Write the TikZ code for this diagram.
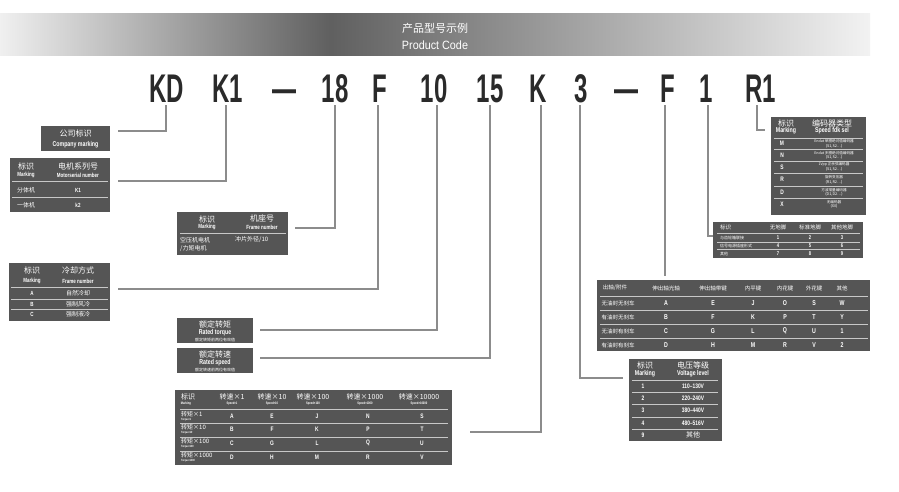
\documentclass[tikz,border=0pt]{standalone}
\usepackage{fontspec}
\setmainfont{Liberation Sans}
\newfontfamily\cjk{Noto Sans CJK SC}
\begin{document}
\begin{tikzpicture}[x=1pt,y=-1pt,
  bx/.style={fill=boxgray,draw=none},
  t/.style={text=white,font=\cjk\fontsize{#1}{#1}\selectfont,inner sep=0pt},
  t/.default=6,
  b/.style={text=white,font=\bfseries\fontsize{#1}{#1}\selectfont,inner sep=0pt,xscale=0.75,transform shape},
  b/.default=6,
  sep/.style={draw=sepgray,line width=0.9pt},
  con/.style={draw=congray,line width=1.3pt},
  code/.style={font=\bfseries\fontsize{40}{40}\selectfont,text=codecol,inner sep=0pt,xscale=0.6,transform shape}]
\definecolor{boxgray}{HTML}{555555}
\definecolor{sepgray}{HTML}{C8C8C8}
\definecolor{congray}{HTML}{8C8C8C}
\definecolor{codecol}{HTML}{2A2A2A}
\def\dd{\ldots}
\useasboundingbox (0,0) rectangle (899,491);
% banner
\shade[left color=white!88!gray, right color=gray!75!black] (0,13) rectangle (330,55);
\shade[left color=gray!75!black, right color=white!90!gray] (330,13) rectangle (870,55);
\node[t=11,text=white] (ttl) at (435,28) {产品型号示例};
\node[text=white,font=\fontsize{12}{12}\selectfont,inner sep=0pt,xscale=0.9,transform shape] (ttl2) at (435,45) {Product Code};
% code
\foreach \n/\x/\s in {c1/167/KD,c2/228/K1,c3/284/—,c4/335/18,c5/380/F,c6/434/10,c7/490/15,c8/538/K,c9/581/3,c10/626/—,c11/668/F,c12/706/1,c13/761/R1}
  \node[code,anchor=base] (\n) at (\x,102) {\s};
% Company
\node[bx,minimum width=69pt,minimum height=25pt,inner sep=0pt] (cm) at (75.5,138.5) {};
\node[t=8] (cm1) at (75.5,133) {公司标识};
\node[b=7] (cm2) at (75.5,145) {Company marking};
\draw[con] (166,105) |- (118,131);
% Motor series
\node[bx,minimum width=100pt,minimum height=54pt,inner sep=0pt] (ms) at (60,185) {};
\node[t=8] at (26,166) {标识}; \node[t=8] at (78,166) {电机系列号};
\node[b] at (26,175) {Marking}; \node[b] at (78,175) {Motorserial number};
\draw[sep] (12,181)--(108,181); \draw[sep] (12,197.5)--(108,197.5);
\node[t=6] at (26,190) {分体机}; \node[b] at (78,190) {K1};
\node[t=6] at (26,205) {一体机}; \node[b] at (78,205) {k2};
\draw[con] (226,105) |- (118,181);
% Frame
\node[bx,minimum width=111pt,minimum height=43pt,inner sep=0pt] (fr) at (232.5,233.5) {};
\node[t=8] at (207,219) {标识}; \node[t=8] at (262,218) {机座号};
\node[b] at (207,227) {Marking}; \node[b] at (262,227) {Frame number};
\draw[sep] (180,233)--(286,233);
\node[t=6,anchor=west] at (180,240) {空压机电机};
\node[t=6,anchor=west] at (180,249) {/力矩电机};
\node[t=6,anchor=west] at (235,240) {冲片外径/10};
\draw[con] (335,105) |- (295,228);
% Cooling
\node[bx,minimum width=101pt,minimum height=58pt,inner sep=0pt] (co) at (59.5,292) {};
\node[t=8] at (32,270) {标识}; \node[t=8] at (78,270) {冷却方式};
\node[b] at (32,281) {Marking}; \node[b] at (78,281) {Frame number};
\draw[sep] (11,287.5)--(108,287.5); \draw[sep] (11,299)--(108,299); \draw[sep] (11,309)--(108,309);
\node[b] at (32,293.5) {A}; \node[t=6] at (78,293.5) {自然冷却};
\node[b] at (32,304) {B}; \node[t=6] at (78,304) {强制风冷};
\node[b] at (32,314) {C}; \node[t=6] at (78,314) {强制液冷};
\draw[con] (378,105) |- (118,289);
% Torque
\node[bx,minimum width=76pt,minimum height=25pt,inner sep=0pt] (tq) at (215,330.5) {};
\node[t=8] at (215,324) {额定转矩}; \node[b=7] at (215,333) {Rated torque};
\node[t=4] at (215,339.5) {额定转矩前两位有效值};
\draw[con] (437,105) |- (260,330);
% Speed
\node[bx,minimum width=76pt,minimum height=25pt,inner sep=0pt] (sp) at (215,360.5) {};
\node[t=8] at (215,354) {额定转速}; \node[b=7] at (215,363) {Rated speed};
\node[t=4] at (215,369.5) {额定转速前两位有效值};
\draw[con] (490,105) |- (260,358);
% Speed table
\node[bx,minimum width=277pt,minimum height=75pt,inner sep=0pt] (st) at (313.5,427.5) {};
\node[t=7,anchor=west] at (181,397) {标识}; \node[b=3.5] at (186,403.5) {Marking};
\foreach \x/\a in {232/1,272/10,313/100,365/1000,419/10000}{
  \node[t=7] at (\x,397) {转速×\a}; \node[b=3.5] at (\x,403.5) {Speed×\a};}
\foreach \y in {409,423,437,451} \draw[sep] (180,\y)--(448,\y);
\foreach \y/\m/\r in {416/1/{A,E,J,N,S},429/10/{B,F,K,P,T},443/100/{C,G,L,Q,U},457/1000/{D,H,M,R,V}}{
  \node[t=6,anchor=west] at (181,\y-2) {转矩×\m}; \node[b=3,anchor=west] at (181,\y+3.5) {Torque×\m};
  \foreach \l [count=\i] in \r {
    \pgfmathsetmacro\xx{{0,232,272,317,368,422}[\i]}
    \node[b=6.5] at (\xx,\y) {\l};}}
\draw[con] (541,105) |- (470,432);
% Voltage
\node[bx,minimum width=93pt,minimum height=82pt,inner sep=0pt] (vo) at (675.5,400) {};
\node[t=8] at (645,365) {标识}; \node[t=8] at (693,365) {电压等级};
\node[b=7] at (645,374) {Marking}; \node[b=7] at (693,374) {Voltage level};
\foreach \y in {380,392,404.5,417,429} \draw[sep] (632,\y)--(718,\y);
\foreach \y/\n/\v in {386/1/110--130V,398/2/220--240V,410.5/3/380--440V,423/4/480--516V}{
  \node[b=6.5] at (643,\y) {\n}; \node[b=6.5] at (693,\y) {\v};}
\node[b=6.5] at (643,435) {9}; \node[t=7] at (693,435) {其他};
\draw[con] (580,105) |- (623,378);
% Accessory table
\node[bx,minimum width=273pt,minimum height=71pt,inner sep=0pt] (ac) at (733.5,315.5) {};
\foreach \x/\h in {615/{出轴/附件},666/伸出轴光轴,713/伸出轴带键,753/内平键,785/内花键,814/外花键,842/其他}
  \node[t=5.5] at (\x,288) {\h};
\foreach \y in {296,310,324,338} \draw[sep] (600,\y)--(868,\y);
\foreach \y/\lab/\r in {303/无油封无刹车/{A,E,J,O,S,W},317/有油封无刹车/{B,F,K,P,T,Y},331/无油封有刹车/{C,G,L,Q,U,1},345/有油封有刹车/{D,H,M,R,V,2}}{
  \node[t=5.5] at (618,\y) {\lab};
  \foreach \l [count=\i] in \r {
    \pgfmathsetmacro\xx{{0,666,713,753,785,814,842}[\i]}
    \node[b=7] at (\xx,\y) {\l};}}
\draw[con] (665,105) -- (665,276);
% Grounding table
\node[bx,minimum width=150pt,minimum height=36pt,inner sep=0pt] (gr) at (788,240) {};
\node[t=5.5,anchor=west] at (720,227.5) {标识};
\foreach \x/\h in {778/无地脚,810/标准地脚,842/其他地脚} \node[t=5.5] at (\x,227.5) {\h};
\foreach \y in {233,242,249.5} \draw[sep] (717,\y)--(860,\y);
\foreach \y/\lab/\r in {237.5/与齿轮箱联接/{1,2,3},245.5/信号电源插座形式/{4,5,6},253.5/其他/{7,8,9}}{
  \node[t=4,anchor=west] at (720,\y) {\lab};
  \foreach \l [count=\i] in \r {
    \pgfmathsetmacro\xx{{0,778,810,842}[\i]}
    \node[b=5.5] at (\xx,\y) {\l};}}
\draw[con] (708,105) |- (713,236);
% Encoder
\node[bx,minimum width=95pt,minimum height=98pt,inner sep=0pt] (en) at (818.5,166) {};
\node[t=8] at (786,123) {标识}; \node[t=8] at (832,123) {编码器类型};
\node[b=7] at (786,131) {Marking}; \node[b=7] at (832,131) {Speed fdk sel};
\foreach \y in {138,149,161,173,186,198} \draw[sep] (774,\y)--(863,\y);
\foreach \y/\l/\d/\s in {143.5/M/{Endat 单圈绝对值编码器}/{(S1,S2\dd)},155/N/{Endat 多圈绝对值编码器}/{(S1,S2\dd)},167/S/{1Vpp 正余弦编码器}/{(S1,S2\dd)},179.5/R/旋转变压器/{(R1,R2\dd)},192/D/方波增量编码器/{(D1,D2\dd)},204/X/无编码器/{(X0)}}{
  \node[b=6.5] at (782,\y) {\l};
  \node[t=3.6] at (834,\y-2.3) {\d};
  \node[t=3.8] at (834,\y+2.6) {\s};}
\draw[con] (757,105) |- (765,130);
\end{tikzpicture}
\end{document}
